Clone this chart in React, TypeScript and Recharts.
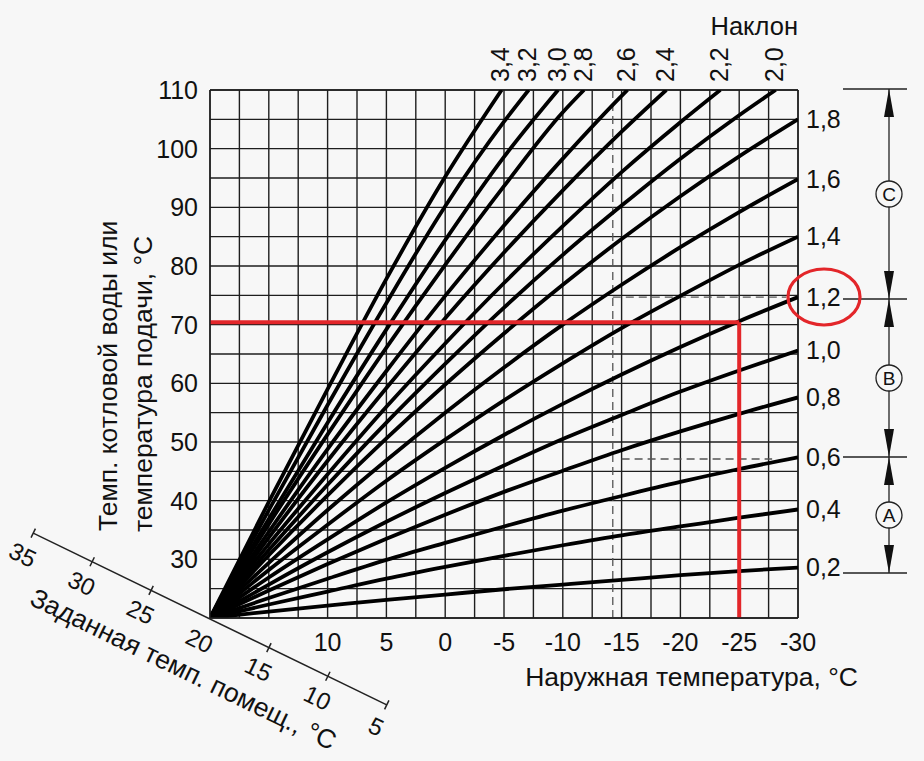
import React from 'react';
import { LineChart, Line, XAxis, YAxis, CartesianGrid, ReferenceLine } from 'recharts';

// Outdoor temperature grid points (°C), read left to right
const outdoorTemps = [20, 15, 10, 5, 0, -5, -10, -15, -20, -25, -30];

// Flow temperature per heating curve (°C)
const c02 = [20, 21.1, 22.1, 23.1, 24.0, 24.9, 25.7, 26.5, 27.3, 28.0, 28.6];
const c04 = [20, 22.3, 24.5, 26.7, 28.7, 30.6, 32.4, 34.1, 35.6, 37.1, 38.5];
const c06 = [20, 23.4, 26.7, 29.9, 32.8, 35.6, 38.3, 40.8, 43.2, 45.4, 47.4];
const c08 = [20, 24.7, 29.2, 33.5, 37.6, 41.5, 45.1, 48.6, 51.8, 54.8, 57.6];
const c10 = [20, 25.7, 31.2, 36.4, 41.3, 46.0, 50.5, 54.6, 58.6, 62.2, 65.6];
const c12 = [20, 26.9, 33.4, 39.7, 45.6, 51.2, 56.5, 61.5, 66.2, 70.6, 74.7];
const c14 = [20, 28.2, 35.9, 43.4, 50.4, 57.1, 63.4, 69.4, 74.9, 80.2, 85.0];
const c16 = [20, 29.4, 38.4, 46.9, 55.0, 62.7, 70.0, 76.8, 83.2, 89.2, 94.8];
const c18 = [20, 30.7, 40.9, 50.6, 59.8, 68.5, 76.8, 84.6, 91.9, 98.7, 105.0];
const c20 = [20, 31.6, 42.7, 53.3, 63.3, 72.9, 81.9, 90.3, 98.3, 105.7, 110];
const c22 = [20, 32.6, 44.5, 56.0, 66.8, 77.1, 86.8, 96.0, 104.5, 110];
const c24 = [20, 33.7, 46.8, 59.2, 71.1, 82.3, 92.9, 102.9, 110];
const c26 = [20, 34.7, 48.8, 62.1, 74.9, 86.9, 98.3, 109.0, 110];
const c28 = [20, 36.0, 51.3, 66.1, 80.2, 93.6, 106.2, 110];
const c30 = [20, 36.9, 53.3, 69.2, 84.4, 98.6, 110];
const c32 = [20, 38.4, 56.3, 73.7, 90.2, 104.6, 110];
const c34 = [20, 39.8, 59.0, 77.8, 95.2, 110];

// Outdoor temperature where the steep curves leave the top of the chart
const topExitTemps: Record<string, number> = {
  '2,0': -28.1, '2,2': -23.4, '2,4': -18.8, '2,6': -15.5,
  '2,8': -11.8, '3,0': -9.6, '3,2': -7.1, '3,4': -4.8,
};

const curveLabels = ['0,2', '0,4', '0,6', '0,8', '1,0', '1,2', '1,4', '1,6', '1,8',
  '2,0', '2,2', '2,4', '2,6', '2,8', '3,0', '3,2', '3,4'];
const curveValues = [c02, c04, c06, c08, c10, c12, c14, c16, c18,
  c20, c22, c24, c26, c28, c30, c32, c34];

const xTicks = [20, 17.5, 15, 12.5, 10, 7.5, 5, 2.5, 0, -2.5, -5, -7.5, -10, -12.5, -15,
  -17.5, -20, -22.5, -25, -27.5, -30];
const yTicks = [20, 25, 30, 35, 40, 45, 50, 55, 60, 65, 70, 75, 80, 85, 90, 95, 100, 105, 110];

const roomTempLabels = ['35', '30', '25', '20', '15', '10', '5'];

const FONT = '"Liberation Sans", Arial, Helvetica, sans-serif';
const INK = '#111';
const RED = '#e3262a';
const BG = '#f7f7f7';

function buildData(label: string, values: number[]) {
  const exit = topExitTemps[label];
  return values.map((v, i) => ({
    t: exit !== undefined && i === values.length - 1 ? exit : outdoorTemps[i],
    v,
  }));
}

function makeLabel(text: string, count: number, top: boolean) {
  return (props: any) => {
    const { x, y, index } = props;
    if (index !== count - 1) return null;
    if (top) {
      return (
        <text transform={`translate(${x - 1},${y - 8}) rotate(-90)`} dy="0.35em" textAnchor="start"
          fontSize={25} fontFamily={FONT} fill={INK}>{text}</text>
      );
    }
    return (
      <text x={x + 8} y={y} dy="0.35em" textAnchor="start" fontSize={25} fontFamily={FONT} fill={INK}>
        {text}
      </text>
    );
  };
}

const xFmt = (t: number) => (Number.isInteger(t) && t % 5 === 0 && t <= 10 ? String(t) : '');
const yFmt = (v: number) => (v % 10 === 0 && v >= 30 ? String(v) : '');

function Overlay() {
  // diagonal room-temperature axis
  const O = { x: 210, y: 619 };
  const ang = 25.9;
  const rad = (ang * Math.PI) / 180;
  const d = { x: Math.cos(rad), y: Math.sin(rad) };
  const p = { x: -Math.sin(rad), y: Math.cos(rad) };
  const step = 65.5;
  const pts = roomTempLabels.map((lab, i) => {
    const k = i - 3;
    return { lab, k, x: O.x + d.x * step * k, y: O.y + d.y * step * k };
  });
  const first = pts[0];
  const last = pts[pts.length - 1];
  const title = { x: O.x + p.x * 56.8 - d.x * 2, y: O.y + p.y * 56.8 - d.y * 2 };

  const bx = 889;
  const sections = [
    { a: 89, b: 299, c: 'C' },
    { a: 299, b: 457, c: 'B' },
    { a: 457, b: 573, c: 'A' },
  ];
  const r = 13;
  const al = 28;
  const aw = 5;

  return (
    <svg width={924} height={761} style={{ position: 'absolute', left: 0, top: 0, pointerEvents: 'none' }}>
      {/* diagonal axis */}
      <line x1={first.x} y1={first.y} x2={last.x} y2={last.y} stroke="#222" strokeWidth={1.5} />
      {pts.map((pt) =>
        pt.k === 0 ? null : (
          <line key={'t' + pt.lab} x1={pt.x - p.x * 5} y1={pt.y - p.y * 5} x2={pt.x + p.x * 5} y2={pt.y + p.y * 5}
            stroke="#222" strokeWidth={1.5} />
        )
      )}
      {pts.map((pt) => {
        const cx = pt.x + p.x * 24;
        const cy = pt.y + p.y * 24;
        return (
          <text key={'l' + pt.lab} x={cx} y={cy} transform={`rotate(${ang},${cx},${cy})`} textAnchor="middle"
            dominantBaseline="central" fontSize={24} fontFamily={FONT} fill={INK}>{pt.lab}</text>
        );
      })}
      <text x={title.x} y={title.y} transform={`rotate(${ang},${title.x},${title.y})`} textAnchor="middle"
        dominantBaseline="central" fontSize={26.5} fontFamily={FONT} fill={INK}>Заданная темп. помещ., °C</text>

      {/* y-axis title */}
      <text transform="translate(117,531) rotate(-90)" textAnchor="start" fontSize={26.5} fontFamily={FONT} fill={INK}>
        Темп. котловой воды или
      </text>
      <text transform="translate(152,532) rotate(-90)" textAnchor="start" fontSize={26.5} fontFamily={FONT} fill={INK}>
        температура подачи, °C
      </text>

      {/* x-axis title and slope title */}
      <text x={858} y={686} textAnchor="end" fontSize={26.5} fontFamily={FONT} fill={INK}>Наружная температура, °C</text>
      <text x={798} y={35} textAnchor="end" fontSize={25.5} fontFamily={FONT} fill={INK}>Наклон</text>

      {/* range brackets */}
      {[89, 299, 457, 573].map((y) => (
        <line key={'h' + y} x1={843} y1={y} x2={907} y2={y} stroke="#222" strokeWidth={1.3} />
      ))}
      {sections.map((s) => {
        const mid = (s.a + s.b) / 2;
        return (
          <g key={s.c}>
            <line x1={bx} y1={s.a} x2={bx} y2={mid - r} stroke="#222" strokeWidth={1.3} />
            <line x1={bx} y1={mid + r} x2={bx} y2={s.b} stroke="#222" strokeWidth={1.3} />
            <polygon points={`${bx},${s.a} ${bx - aw},${s.a + al} ${bx + aw},${s.a + al}`} fill="#111" />
            <polygon points={`${bx},${s.b} ${bx - aw},${s.b - al} ${bx + aw},${s.b - al}`} fill="#111" />
            <circle cx={bx} cy={mid} r={r} fill={BG} stroke="#222" strokeWidth={1.3} />
            <text x={bx} y={mid} textAnchor="middle" dominantBaseline="central" fontSize={19} fontFamily={FONT}
              fill={INK}>{s.c}</text>
          </g>
        );
      })}

      {/* red highlight ellipse */}
      <ellipse cx={824} cy={297} rx={36} ry={28} fill="none" stroke={RED} strokeWidth={3.2} />
    </svg>
  );
}

export default function App() {
  return (
    <div style={{ position: 'fixed', left: 0, top: 0, width: 924, height: 761, background: BG, overflow: 'hidden' }}>
      <div style={{ position: 'absolute', left: 0, top: 0 }}>
        <LineChart width={924} height={761} margin={{ top: 90, right: 126, bottom: 113, left: 150 }}>
          <CartesianGrid stroke="#1e1e1e" strokeWidth={1.4} strokeOpacity={1} />
          <XAxis type="number" dataKey="t" domain={[-30, 20]} reversed allowDataOverflow ticks={xTicks}
            interval={0} tickFormatter={xFmt} height={30} tickLine={false} tickSize={13} tickMargin={2}
            axisLine={{ stroke: '#1e1e1e', strokeWidth: 1.4 }}
            tick={{ fontSize: 25, fill: INK, fontFamily: FONT }} />
          <YAxis type="number" domain={[20, 110]} allowDataOverflow ticks={yTicks} interval={0}
            tickFormatter={yFmt} width={60} tickLine={false} tickSize={10} tickMargin={2}
            axisLine={{ stroke: '#1e1e1e', strokeWidth: 1.4 }}
            tick={{ fontSize: 25, fill: INK, fontFamily: FONT }} />
          <ReferenceLine y={110} stroke="#1e1e1e" strokeWidth={1.4} />
          <ReferenceLine x={-30} stroke="#1e1e1e" strokeWidth={1.4} />
          <ReferenceLine segment={[{ x: -14.25, y: 20 }, { x: -14.25, y: 110 }]} stroke="#555"
            strokeWidth={1.3} strokeDasharray="8 5" />
          <ReferenceLine segment={[{ x: -14.25, y: 74.7 }, { x: -29, y: 74.7 }]} stroke="#555"
            strokeWidth={1.3} strokeDasharray="8 5" />
          <ReferenceLine segment={[{ x: -15, y: 47.1 }, { x: -27.8, y: 47.1 }]} stroke="#555"
            strokeWidth={1.3} strokeDasharray="8 5" />
          {curveLabels.map((lab, i) => {
            const data = buildData(lab, curveValues[i]);
            const top = topExitTemps[lab] !== undefined;
            return (
              <Line key={lab} data={data} dataKey="v" type="monotone" stroke="#000" strokeWidth={3.8}
                dot={false} activeDot={false} isAnimationActive={false}
                label={makeLabel(lab, data.length, top)} />
            );
          })}
          <ReferenceLine segment={[{ x: 20, y: 70.4 }, { x: -25, y: 70.4 }]} stroke={RED} strokeWidth={4} />
          <ReferenceLine segment={[{ x: -25, y: 70.4 }, { x: -25, y: 20 }]} stroke={RED} strokeWidth={4} />
        </LineChart>
      </div>
      <Overlay />
    </div>
  );
}
